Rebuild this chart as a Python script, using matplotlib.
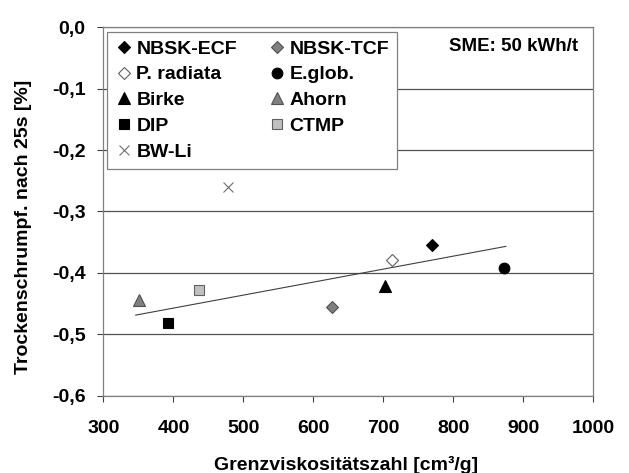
import matplotlib
matplotlib.use('Agg')
import matplotlib.pyplot as plt
from matplotlib.ticker import FuncFormatter

plt.rcParams['font.family'] = ['Liberation Sans', 'DejaVu Sans']
plt.rcParams['font.weight'] = 'bold'

# Daten
labels = ['NBSK-ECF', 'NBSK-TCF', 'P. radiata', 'E.glob.', 'Birke',
          'Ahorn', 'DIP', 'CTMP', 'BW-Li']
grenzvisko = [770, 626, 712, 872, 702, 351, 392, 436, 478]
schrumpf = [-0.354, -0.456, -0.380, -0.392, -0.421, -0.444, -0.482, -0.428, -0.261]

trend_x = [346, 875]
trend_y = [-0.469, -0.357]

x_ticks = [300, 400, 500, 600, 700, 800, 900, 1000]
y_ticks = [0.0, -0.1, -0.2, -0.3, -0.4, -0.5, -0.6]

# marker, face, edge, size
styles = [
    ('D', 'black', 'black', 6.0),
    ('D', '#808080', '#505050', 6.0),
    ('D', 'white', '#606060', 6.0),
    ('o', 'black', 'black', 7.7),
    ('^', 'black', 'black', 8.2),
    ('^', '#808080', '#505050', 8.2),
    ('s', 'black', 'black', 7.8),
    ('s', '#c0c0c0', '#606060', 7.8),
    ('x', '#707070', '#707070', 7.7),
]

fig = plt.figure(figsize=(6.29, 4.73), dpi=100)
ax = fig.add_axes([103.5/629, 1-395.5/473, 489.8/629, 368.2/473])

handles = []
for lab, xv, yv, (m, fc, ec, ms) in zip(labels, grenzvisko, schrumpf, styles):
    h, = ax.plot([xv], [yv], linestyle='none', marker=m, markersize=ms,
                 markerfacecolor=fc, markeredgecolor=ec, markeredgewidth=0.8,
                 label=lab, zorder=3)
    handles.append(h)

ax.plot(trend_x, trend_y, color='#404040', linewidth=0.8, zorder=2)

ax.set_xlim(300, 1000)
ax.set_ylim(-0.6, 0.0)
ax.set_xticks(x_ticks)
ax.set_yticks(y_ticks)
ax.yaxis.set_major_formatter(FuncFormatter(
    lambda v, p: f'{v:.1f}'.replace('.', ',') if abs(v) > 1e-9 else '0,0'))

ax.grid(axis='y', color='#505050', linewidth=0.9)
ax.set_axisbelow(True)
for s in ax.spines.values():
    s.set_color('#808080')
    s.set_linewidth(0.9)

ax.tick_params(axis='both', labelsize=14, color='#404040', width=0.8,
               length=4.5)
ax.tick_params(axis='y', pad=8.5)
ax.tick_params(axis='x', pad=13)

ax.set_xlabel('Grenzviskositätszahl [cm³/g]', fontsize=14, fontweight='bold')
ax.set_ylabel('Trockenschrumpf. nach 25s [%]', fontsize=14, fontweight='bold')
ax.xaxis.set_label_coords(0.4947, -0.163)
ax.yaxis.set_label_coords(-0.145, 0.458)

# Legende zeilenweise wie im Original (matplotlib fuellt spaltenweise)
order = [0, 2, 4, 6, 8, 1, 3, 5, 7]
leg = ax.legend([handles[i] for i in order], [labels[i] for i in order],
                ncol=2, loc='upper left', bbox_to_anchor=(0.0078, 0.9864),
                borderaxespad=0, fancybox=False, framealpha=1,
                edgecolor='#808080', prop={'size': 14, 'weight': 'bold'},
                handlelength=0.9, handletextpad=0.2, borderpad=0.4,
                labelspacing=0.42, columnspacing=1.6, numpoints=1)
leg.get_frame().set_linewidth(0.9)

ax.text(0.9688, 0.947, 'SME: 50 kWh/t', transform=ax.transAxes,
        ha='right', va='center', fontsize=13.5, fontweight='bold')

fig.savefig('out.png', dpi=100)
